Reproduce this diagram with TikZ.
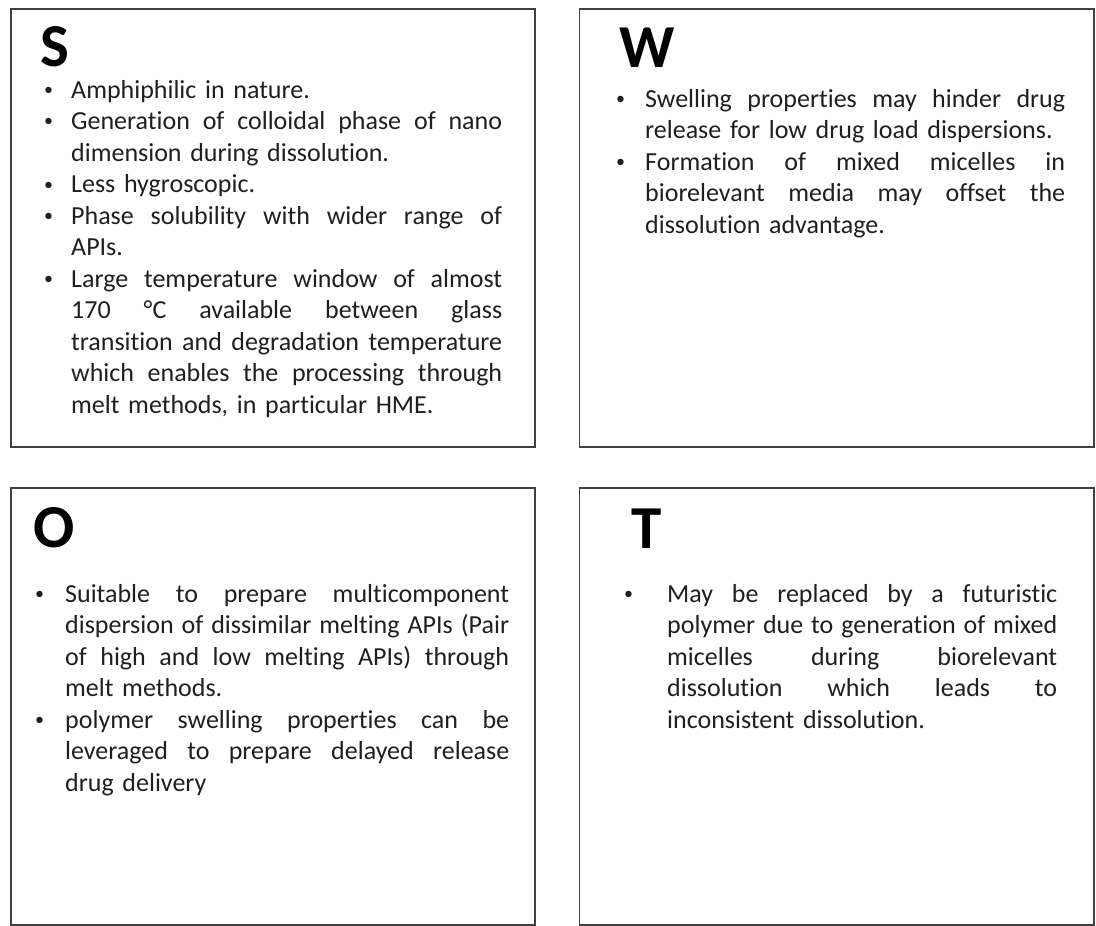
\documentclass[tikz,border=0pt]{standalone}
\usepackage{fontspec}
\setmainfont{Carlito}[Ligatures=NoCommon]

% widths used by the bullet-line macros
\newlength\bulind
\newlength\txtw
% a justified line: every interword space stretches by the same amount
\newcommand\fillline[1]{\hbox to\txtw{\spaceskip=0.23em plus 1fil\relax
  \xspaceskip=\spaceskip #1}}
\newcommand\plainline[1]{\hbox to\txtw{#1\hfil}}
% small bullet mark
\newcommand\bulmark{\hspace*{2pt}\raisebox{2.7pt}{\fontsize{18}{18}\selectfont•}}
% first line of a bullet item (justified / ragged)
\newcommand\hdline[1]{\noindent\rule{0pt}{22pt}\makebox[\bulind][l]{\bulmark}\fillline{#1}\par}
\newcommand\hdlast[1]{\noindent\rule{0pt}{22pt}\makebox[\bulind][l]{\bulmark}\plainline{#1}\par}
% continuation lines (justified / ragged)
\newcommand\jline[1]{\noindent\rule{0pt}{22pt}\hspace*{\bulind}\fillline{#1}\par}
\newcommand\lline[1]{\noindent\rule{0pt}{22pt}\hspace*{\bulind}\plainline{#1}\par}

\tikzset{
  panel/.style={draw=black!75, line width=1.5pt, anchor=north west, inner sep=0pt},
  letter/.style={anchor=base west, inner sep=0pt, text=black,
                 font=\fontsize{61}{72}\selectfont\bfseries},
  body/.style={anchor=north west, inner sep=0pt, text=black!88,
               font=\fontsize{26}{31.5}\selectfont},
}

\begin{document}
\begin{tikzpicture}[x=1pt, y=-1pt]
\useasboundingbox (0,0) rectangle (1096,926);

% the four quadrants
\node[panel, minimum width=524pt,   minimum height=438pt] (S) at (10,8) {};
\node[panel, minimum width=514.5pt, minimum height=438pt] (W) at (578.5,8) {};
\node[panel, minimum width=524pt,   minimum height=437pt] (O) at (10,487) {};
\node[panel, minimum width=514.5pt, minimum height=437pt] (T) at (578.5,487) {};

% headings
\node[letter] (Sl) at (40,66)  {S};
\node[letter] (Wl) at (619,67) {W};
\node[letter] (Ol) at (33,547) {O};
\node[letter] (Tl) at (631,548) {T};

% strengths
\node[body, text width=460pt] (Sb) at (42,76) {%
  \setlength\bulind{29pt}\setlength\txtw{431pt}\parskip=0pt
  \hdlast{Amphiphilic in nature.}
  \hdline{Generation of colloidal phase of nano}
  \lline{dimension during dissolution.}
  \hdlast{Less hygroscopic.}
  \hdline{Phase solubility with wider range of}
  \lline{APIs.}
  \hdline{Large temperature window of almost}
  \jline{170 °C available between glass}
  \jline{transition and degradation temperature}
  \jline{which enables the processing through}
  \lline{melt methods, in particular HME.}};

% weaknesses
\node[body, text width=451pt] (Wb) at (614,85) {%
  \setlength\bulind{31pt}\setlength\txtw{420pt}\parskip=0pt
  \hdline{Swelling properties may hinder drug}
  \lline{release for low drug load dispersions.}
  \hdline{Formation of mixed micelles in}
  \jline{biorelevant media may offset the}
  \lline{dissolution advantage.}};

% opportunities
\node[body, text width=476pt] (Ob) at (33,580) {%
  \setlength\bulind{32pt}\setlength\txtw{444pt}\parskip=0pt
  \hdline{Suitable to prepare multicomponent}
  \jline{dispersion of dissimilar melting APIs (Pair}
  \jline{of high and low melting APIs) through}
  \lline{melt methods.}
  \hdline{polymer swelling properties can be}
  \jline{leveraged to prepare delayed release}
  \lline{drug delivery}};

% threats
\node[body, text width=435pt] (Tb) at (622,580) {%
  \setlength\bulind{45pt}\setlength\txtw{390pt}\parskip=0pt
  \hdline{May be replaced by a futuristic}
  \jline{polymer due to generation of mixed}
  \jline{micelles during biorelevant}
  \jline{dissolution which leads to}
  \lline{inconsistent dissolution.}};
\end{tikzpicture}
\end{document}
